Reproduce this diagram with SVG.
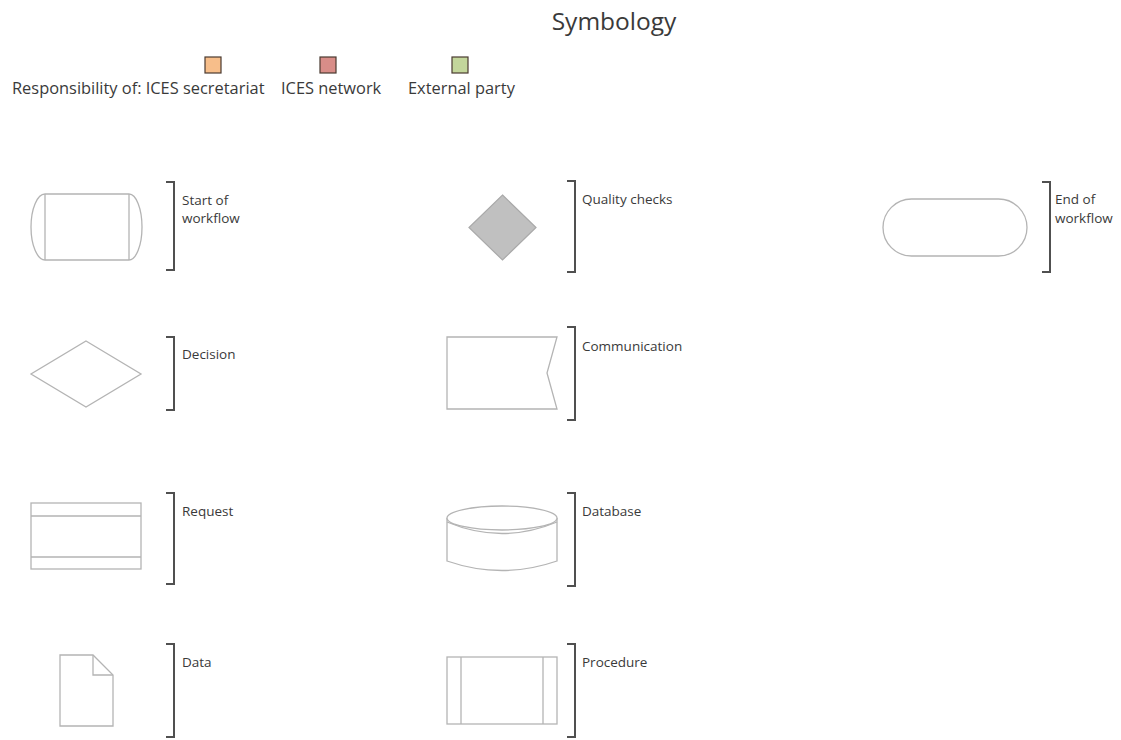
<svg xmlns="http://www.w3.org/2000/svg" width="1121" height="740" viewBox="0 0 1121 740">
<style>
text{font-family:"Open Sans","Liberation Sans",sans-serif;fill:#3a3a3a}
.title{font-size:24.5px}
.leg{font-size:16.4px}
.lbl{font-size:13.5px}
.shape{fill:#fff;stroke:#b4b4b4;stroke-width:1.3}
.ln{fill:none;stroke:#b4b4b4;stroke-width:1.3}
.br{fill:none;stroke:#505050;stroke-width:2}
.sw{stroke:#4a3a30;stroke-width:1.2}
</style>
<rect width="1121" height="740" fill="#fff"/>
<text class="title" x="614" y="30" text-anchor="middle">Symbology</text>
<g id="legend">
<rect class="sw" x="205" y="57" width="16" height="16" fill="#f7be8a"/>
<rect class="sw" x="320" y="57" width="16" height="16" fill="#d88d88"/>
<rect class="sw" x="452" y="57" width="16" height="16" fill="#c3d69b"/>
<text class="leg" x="12" y="94">Responsibility of: ICES secretariat</text>
<text class="leg" x="281" y="94">ICES network</text>
<text class="leg" x="408" y="94">External party</text>
</g>
<g id="connectors"></g>
<g id="start">
<path class="shape" d="M45,194 H129 A13,33 0 0 1 129,260 H45 A14,33 0 0 1 45,194 Z"/>
<path class="ln" d="M45,194 V260 M129,194 V260"/>
<path class="br" d="M166,182 H174 V270 H166"/>
<text class="lbl" x="182" y="205">Start of</text>
<text class="lbl" x="182" y="223">workflow</text>
</g>
<g id="quality">
<path d="M502.5,195 L536,227.5 L502.5,260 L469,227.5 Z" fill="#c0c0c0" stroke="#a9a9a9" stroke-width="1.2"/>
<path class="br" d="M567,181 H575 V272 H567"/>
<text class="lbl" x="582" y="204">Quality checks</text>
</g>
<g id="end">
<rect class="shape" x="883" y="199" width="144" height="57" rx="28.5" ry="28.5"/>
<path class="br" d="M1042,182 H1050 V272 H1042"/>
<text class="lbl" x="1055" y="204">End of</text>
<text class="lbl" x="1055" y="223">workflow</text>
</g>
<g id="decision">
<path class="shape" d="M86,341 L141,374 L86,407 L31,374 Z"/>
<path class="br" d="M166,337 H174 V410 H166"/>
<text class="lbl" x="182" y="359">Decision</text>
</g>
<g id="communication">
<path class="shape" d="M447,337 H557 L547,373 L557,409 H447 Z"/>
<path class="br" d="M567,327 H575 V420 H567"/>
<text class="lbl" x="582" y="351">Communication</text>
</g>
<g id="request">
<rect class="shape" x="31" y="503" width="110" height="66"/>
<path class="ln" d="M31,516 H141 M31,557 H141"/>
<path class="br" d="M166,493 H174 V584 H166"/>
<text class="lbl" x="182" y="516">Request</text>
</g>
<g id="database">
<path class="shape" d="M447,518 V561 Q502,580 557,561 V518"/>
<ellipse class="shape" cx="502" cy="518" rx="55" ry="12"/>
<path class="ln" d="M447,522 Q502,545 557,522"/>
<path class="br" d="M567,493 H575 V586 H567"/>
<text class="lbl" x="582" y="516">Database</text>
</g>
<g id="data">
<path class="shape" d="M60,655 H93 L113,675 V726 H60 Z"/>
<path class="ln" d="M93,655 V675 H113"/>
<path class="br" d="M166,644 H174 V737 H166"/>
<text class="lbl" x="182" y="667">Data</text>
</g>
<g id="procedure">
<rect class="shape" x="447" y="657" width="110" height="67"/>
<path class="ln" d="M461,657 V724 M543,657 V724"/>
<path class="br" d="M567,644 H575 V737 H567"/>
<text class="lbl" x="582" y="667">Procedure</text>
</g>
</svg>
